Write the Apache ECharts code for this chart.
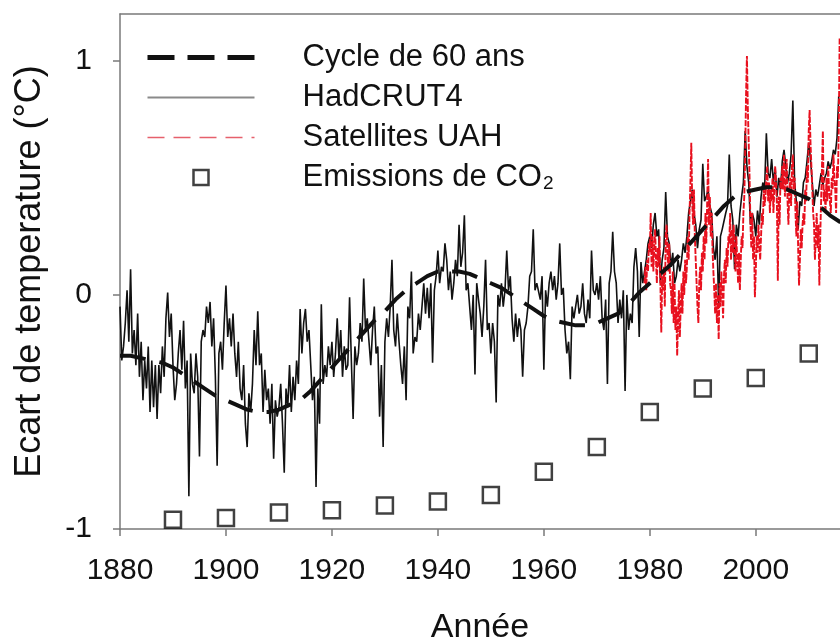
<!DOCTYPE html>
<html><head><meta charset="utf-8">
<script src="https://cdn.jsdelivr.net/npm/echarts@6/dist/echarts.min.js"></script>
<style>html,body{margin:0;padding:0;background:#fff}#c{width:840px;height:643px}</style>
</head><body><div id="c"></div>
<script>
const FONT = '"Liberation Sans", Arial, Helvetica, sans-serif';

const xTicks = [1880, 1900, 1920, 1940, 1960, 1980, 2000];
const yTicks = [-1, 0, 1];

// HadCRUT4 (3 samples per year, from 1880)
const hadcrutStart = 1880;
const hadcrutPerYear = 3;
const hadcrut = [
 -0.05,-0.28,-0.22, -0.12,0.02,-0.20, 0.11,-0.25,-0.15, -0.30,-0.08,-0.35, -0.20,-0.45,-0.28,
 -0.40,-0.22,-0.50, -0.28,-0.48,-0.30, -0.53,-0.30,-0.42, -0.22,-0.35,-0.10, 0.01,-0.18,-0.08,
 -0.30,-0.45,-0.38, -0.25,-0.15,-0.32, -0.11,-0.40,-0.28, -0.86,-0.25,-0.38, -0.42,-0.25,-0.35,
 -0.69,-0.20,-0.15, -0.18,-0.05,-0.12, -0.03,-0.22,-0.10, -0.35,-0.73,-0.25, -0.20,-0.32,-0.12,
 0.04,-0.18,-0.10, -0.22,-0.08,-0.25, -0.35,-0.20,-0.40, -0.45,-0.30,-0.55, -0.65,-0.42,-0.50,
 -0.38,-0.15,-0.30, -0.07,-0.30,-0.25, -0.50,-0.32,-0.45, -0.40,-0.55,-0.38, -0.70,-0.45,-0.52,
 -0.48,-0.38,-0.55, -0.76,-0.40,-0.48, -0.30,-0.50,-0.35, -0.45,-0.28,-0.38, -0.06,-0.25,-0.12,
 -0.06,-0.20,-0.15, -0.30,-0.45,-0.35, -0.82,-0.40,-0.55, -0.04,-0.38,-0.30, -0.35,-0.22,-0.30,
 -0.20,-0.35,-0.25, -0.10,-0.28,-0.15, -0.35,-0.22,-0.32, -0.30,-0.01,-0.28, -0.53,-0.22,-0.30,
 -0.25,-0.12,-0.20, 0.07,-0.15,-0.10, -0.20,-0.30,-0.15, -0.05,-0.25,-0.22, -0.52,-0.30,-0.65,
 -0.20,-0.10,-0.18, -0.05,0.15,-0.15, -0.22,-0.08,-0.20, -0.30,-0.38,-0.22, -0.45,-0.05,-0.10,
 0.10,-0.25,-0.18, -0.20,-0.08,-0.15, -0.05,0.05,-0.08, 0.03,-0.10,0.05, -0.29,0.02,0.08,
 0.19,0.05,0.12, 0.10,0.22,0.15, 0.02,0.10,-0.02, 0.05,0.15,0.08, 0.30,0.12,0.18,
 0.34,0.02,0.05, -0.05,-0.15,0.00, -0.34,0.05,-0.02, -0.08,-0.18,-0.05, 0.15,-0.15,-0.12,
 -0.25,-0.12,-0.20, -0.46,0.00,-0.05, 0.05,-0.05,0.02, 0.19,0.02,0.08, -0.10,-0.20,-0.08,
 -0.18,-0.10,-0.15, -0.35,-0.15,-0.12, -0.05,0.08,0.10, 0.28,0.02,0.05, 0.05,-0.02,0.08,
 -0.32,0.02,-0.05, 0.05,0.10,0.02, 0.08,-0.02,0.05, 0.22,0.00,0.03, -0.15,-0.25,-0.20,
 -0.36,-0.05,-0.10, -0.10,0.00,-0.08, -0.05,0.05,-0.08, -0.12,-0.02,-0.10, 0.19,0.02,0.00,
 0.05,-0.02,0.08, -0.10,-0.15,-0.02, -0.38,0.05,0.10, 0.27,0.10,0.05, -0.12,-0.02,-0.10,
 0.02,-0.41,0.00, -0.15,-0.08,-0.12, 0.12,0.20,0.10, -0.18,0.14,0.05, 0.10,0.15,0.22,
 0.25,0.20,0.30, 0.35,0.25,0.28, 0.05,0.15,0.20, 0.44,0.25,0.22, 0.12,0.18,0.05,
 0.08,0.15,0.10, 0.15,0.22,0.18, 0.25,0.35,0.40, 0.45,0.35,0.30, 0.20,0.28,0.32,
 0.56,0.40,0.42, 0.45,0.38,0.35, 0.20,0.15,0.25, -0.05,0.25,0.28, 0.28,0.35,0.38,
 0.60,0.38,0.32, 0.11,0.30,0.25, 0.35,0.42,0.48, 0.70,0.55,0.48, 0.30,0.35,0.32,
 0.25,0.36,0.30, 0.42,0.48,0.45, 0.69,0.52,0.50, 0.58,0.48,0.54, 0.42,0.50,0.45,
 0.57,0.62,0.55, 0.48,0.52,0.60, 0.83,0.48,0.40, 0.28,0.40,0.38, 0.48,0.50,0.57,
 0.65,0.58,0.48, 0.38,0.45,0.42, 0.42,0.52,0.47, 0.50,0.52,0.57, 0.54,0.57,0.62,
 0.60,0.67,0.85
];

// Satellites UAH (6 samples per year, from 1979)
const uahStart = 1979;
const uahPerYear = 6;
const uah = [
 0.05,0.12,0.02,0.15,0.10,0.22,
 0.18,0.35,0.12,0.25,0.10,0.20,
 0.28,0.15,0.05,0.20,0.12,0.25,
 0.05,-0.16,0.08,0.02,0.12,-0.05,
 0.25,0.30,0.18,0.10,0.22,0.05,
 0.02,-0.08,0.10,-0.12,0.05,-0.15,
 -0.05,-0.26,-0.10,0.02,-0.18,-0.05,
 0.05,-0.08,0.10,0.00,0.15,0.05,
 0.12,0.25,0.15,0.35,0.48,0.65,
 0.40,0.30,0.45,0.25,0.15,0.05,
 -0.05,-0.12,0.05,0.12,0.02,0.18,
 0.10,0.25,0.15,0.35,0.22,0.40,
 0.58,0.30,0.42,0.25,0.35,0.20,
 0.10,0.02,-0.08,0.05,-0.12,0.00,
 -0.19,0.05,-0.05,0.10,0.02,-0.10,
 0.08,0.15,0.05,0.20,0.12,0.25,
 0.22,0.35,0.15,0.28,0.18,0.30,
 0.20,0.10,0.25,0.15,0.05,0.18,
 0.02,0.15,0.25,0.20,0.35,0.42,
 0.60,0.85,1.02,0.80,0.65,0.50,
 0.30,0.20,0.35,0.15,0.25,-0.01,
 0.10,0.25,0.18,0.30,0.22,0.15,
 0.25,0.35,0.30,0.45,0.38,0.42,
 0.50,0.55,0.40,0.48,0.35,0.45,
 0.40,0.50,0.35,0.45,0.55,0.48,
 0.38,0.06,0.42,0.30,0.50,0.45,
 0.55,0.45,0.60,0.42,0.50,0.58,
 0.40,0.30,0.45,0.50,0.38,0.55,
 0.60,0.45,0.50,0.35,0.25,0.40,
 0.20,0.04,0.15,0.28,0.20,0.30,
 0.35,0.30,0.45,0.40,0.55,0.48,
 0.70,0.79,0.65,0.55,0.45,0.35,
 0.30,0.15,0.25,0.35,0.20,0.30,
 0.04,0.25,0.40,0.55,0.70,0.40,
 0.45,0.35,0.50,0.40,0.55,0.45,
 0.40,0.35,0.50,0.45,0.60,0.50,
 0.45,0.35,0.55,0.50,0.70,1.10
];

// Cycle de 60 ans
const cycleYears = [1880,1882,1884,1886,1888,1890,1892,1894,1896,1898,1900,1902,1904,1906,1908,1910,1912,1914,1916,1918,1920,1922,1924,1926,1928,1930,1932,1934,1936,1938,1940,1942,1944,1946,1948,1950,1952,1954,1956,1958,1960,1962,1964,1966,1968,1970,1972,1974,1976,1978,1980,1982,1984,1986,1988,1990,1992,1994,1996,1998,2000,2002,2004,2006,2008,2010,2012,2014,2016];
const cycle = [-0.26,-0.26,-0.27,-0.28,-0.29,-0.31,-0.34,-0.37,-0.40,-0.43,-0.45,-0.47,-0.49,-0.50,-0.50,-0.49,-0.47,-0.45,-0.41,-0.36,-0.31,-0.26,-0.21,-0.16,-0.11,-0.07,-0.02,0.02,0.05,0.08,0.10,0.10,0.10,0.09,0.07,0.05,0.03,0.00,-0.03,-0.06,-0.09,-0.11,-0.12,-0.13,-0.13,-0.12,-0.10,-0.08,-0.04,0.01,0.05,0.09,0.13,0.18,0.23,0.28,0.33,0.38,0.42,0.44,0.45,0.46,0.46,0.45,0.43,0.41,0.38,0.34,0.31];

// Emissions de CO2 (scaled markers)
const co2Years = [1890,1900,1910,1920,1930,1940,1950,1960,1970,1980,1990,2000,2010];
const co2 = [-0.96,-0.953,-0.93,-0.92,-0.90,-0.883,-0.855,-0.755,-0.65,-0.50,-0.40,-0.355,-0.25];

const names = ['Cycle de 60 ans', 'HadCRUT4', 'Satellites UAH', 'Emissions de CO2'];

const hadData = hadcrut.map((v, i) => [hadcrutStart + i / hadcrutPerYear, v]);
const uahData = uah.map((v, i) => [uahStart + i / uahPerYear, v]);
const cycData = cycle.map((v, i) => [cycleYears[i], v]);
const co2Data = co2.map((v, i) => [co2Years[i], v]);

const axisGray = '#7a7a7a';
const hideSym = { opacity: 0, color: 'transparent', borderColor: 'transparent' };
const chart = echarts.init(document.getElementById('c'));
chart.setOption({
  animation: false,
  backgroundColor: '#fff',
  grid: { left: 120, right: 0, top: 14, bottom: 114, outerBoundsMode: 'none', containLabel: false },
  legend: {
    orient: 'vertical', left: 145, top: 26, padding: 0,
    itemWidth: 107, itemHeight: 15, itemGap: -23,
    selectedMode: false,
    data: [
      { name: names[0], itemStyle: hideSym, lineStyle: { width: 5, type: [27, 13], color: '#111' } },
      { name: names[1], itemStyle: hideSym, lineStyle: { width: 2, color: '#8a8a8a' } },
      { name: names[2], itemStyle: hideSym, lineStyle: { width: 1.5, type: [17, 9], color: '#e6606c' } },
      { name: names[3], icon: 'path://M0,0L10,0L10,10L0,10Z',
        itemStyle: { color: '#fff', borderColor: '#111', borderWidth: 2.5 } }
    ],
    formatter: n => n === 'Emissions de CO2' ? '{t|Emissions de CO}{s|2}' : '{t|' + n + '}',
    textStyle: {
      fontFamily: FONT, color: '#111', fontSize: 31,
      rich: {
        t: { fontFamily: FONT, color: '#111', fontSize: 31, lineHeight: 32, padding: [16, 0, 16, 43] },
        s: { fontFamily: FONT, color: '#111', fontSize: 19, lineHeight: 19, verticalAlign: 'bottom', padding: [0, 0, 0, 1] }
      }
    }
  },
  xAxis: [{
    type: 'value', min: 1880, max: 2015.9, interval: 20,
    axisLine: { onZero: false, lineStyle: { color: axisGray, width: 1.5 } },
    axisTick: { length: 7, customValues: xTicks, lineStyle: { color: axisGray, width: 1.5 } },
    axisLabel: { customValues: xTicks, fontSize: 30, color: '#111', margin: 27, fontFamily: FONT,
      formatter: v => String(v) },
    splitLine: { show: false },
    name: 'Année', nameLocation: 'middle', nameGap: 82,
    nameTextStyle: { fontSize: 34, color: '#111', fontFamily: FONT }
  }, {
    type: 'value', position: 'top', min: 1880, max: 2015.9,
    axisLine: { onZero: false, lineStyle: { color: axisGray, width: 1.5 } },
    axisTick: { show: false }, axisLabel: { show: false }, splitLine: { show: false }
  }],
  yAxis: {
    type: 'value', min: -1, max: 1.2, interval: 1,
    axisLine: { onZero: false, lineStyle: { color: axisGray, width: 1.5 } },
    axisTick: { length: 7, customValues: yTicks, lineStyle: { color: axisGray, width: 1.5 } },
    axisLabel: { customValues: yTicks, fontSize: 30, color: '#111', margin: 28, fontFamily: FONT,
      formatter: v => String(v) },
    splitLine: { show: false },
    name: 'Ecart de temperature (°C)', nameLocation: 'middle', nameGap: 72,
    nameTextStyle: { fontSize: 36, color: '#111', fontFamily: FONT }
  },
  series: [
    { name: names[1], type: 'line', data: hadData, symbol: 'none', showSymbol: false, z: 2,
      lineStyle: { color: '#111', width: 1.6 } },
    { name: names[2], type: 'line', data: uahData, symbol: 'none', showSymbol: false, z: 3,
      lineStyle: { color: '#e8101e', width: 1.9, type: [6, 1.5] } },
    { name: names[0], type: 'line', data: cycData, symbol: 'none', showSymbol: false, z: 4,
      lineStyle: { color: '#111', width: 4, type: [26, 14] } },
    { name: names[3], type: 'scatter', data: co2Data, symbol: 'rect', symbolSize: 16, z: 5,
      itemStyle: { color: '#fff', borderColor: '#111', borderWidth: 2.5 } }
  ]
});
</script>
</body></html>
